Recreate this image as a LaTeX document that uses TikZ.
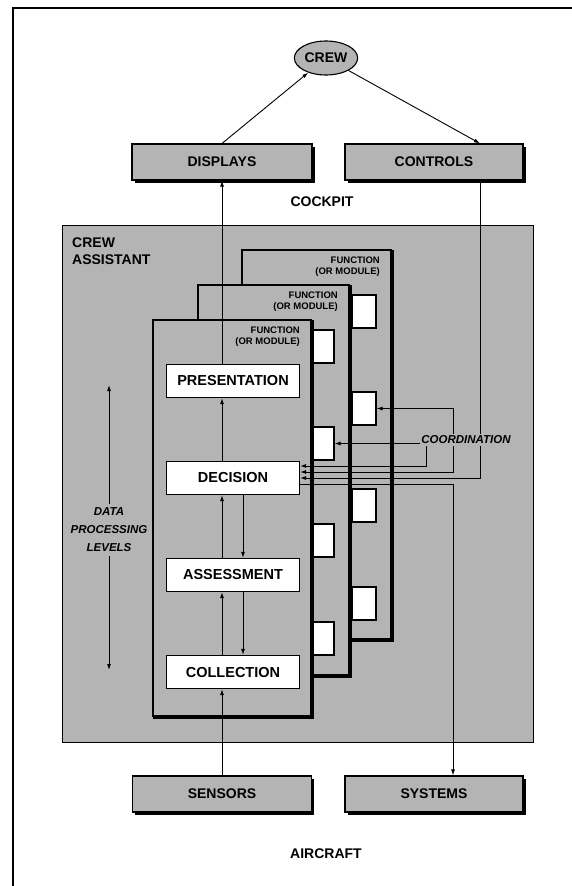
\documentclass[tikz,border=0pt]{standalone}
\usepackage{fontspec}
\setmainfont{Liberation Sans}
\usetikzlibrary{arrows.meta,shapes.geometric,shadows}
\definecolor{halftone}{HTML}{B4B4B4}
\pgfdeclarelayer{front}
\pgfsetlayers{main,front}
\tikzset{
  shbox/.style={draw,line width=1.1pt,fill=halftone,minimum height=36pt,
    font=\bfseries\fontsize{14}{16}\selectfont,
    drop shadow={shadow xshift=2.5pt,shadow yshift=-2.5pt,fill=black,opacity=1}},
  oval/.style={draw,ellipse,line width=1.1pt,fill=halftone,inner sep=1pt,
    font=\bfseries\fontsize{14}{16}\selectfont},
  lvl/.style={draw,line width=1.3pt,fill=white,minimum width=133pt,minimum height=33pt,
    font=\bfseries\fontsize{14.5}{16}\selectfont},
  stub/.style={draw,line width=1.1pt,fill=white,minimum width=24pt,minimum height=33pt},
  fnlab/.style={font=\bfseries\fontsize{9.5}{11}\selectfont,align=right,inner sep=0pt},
  lab/.style={font=\bfseries\fontsize{14}{16.5}\selectfont},
  ilab/.style={font=\bfseries\itshape\fontsize{11.5}{18}\selectfont,align=center},
  arr/.style={-{Latex[length=6pt,width=4pt]},line width=0.9pt},
  arr2/.style={{Latex[length=6pt,width=4pt]}-{Latex[length=6pt,width=4pt]},line width=0.9pt}
}
\begin{document}
\begin{tikzpicture}[x=1pt,y=-1pt]
\useasboundingbox (0,0) rectangle (571,886);
\draw[line width=1.5pt] (13,8) rectangle (580,895);
% cockpit
\node[oval,minimum width=60pt,minimum height=34pt] (crew) at (326,58) {CREW};
\node[shbox,minimum width=180pt] (disp) at (222,162) {DISPLAYS};
\node[shbox,minimum width=178pt] (ctrl) at (434,162) {CONTROLS};
\node[lab] (cockpit) at (322,202) {COCKPIT};
% crew assistant
\draw[line width=0.9pt,fill=halftone] (62,225) rectangle (533,742);
\node[lab,align=left,anchor=north west,inner sep=0pt] (ca) at (72,238) {CREW\\ASSISTANT};
\foreach \l/\t/\r/\b in {242/250/392/640,198/285/350/676,153/320/312/717}{
  \fill[halftone] (\l,\t) rectangle (\r,\b);
  \draw[line width=1.2pt] (\l,\b) -- (\l,\t) -- (\r,\t);
  \draw[line width=4pt] (\r,\t) -- (\r,\b) -- (\l,\b);
  \node[fnlab,anchor=north east] at (\r-12,\t+7) {FUNCTION\\(OR MODULE)};
  \ifnum\r>320
    \foreach \dy in {45,142,239,337}
      \node[stub] (s\r-\dy) at (\r-28,\t+\dy+16.5) {};
  \fi
}
\node[lvl] (pres) at (233,381) {PRESENTATION};
\node[lvl] (dec) at (233,478) {DECISION};
\node[lvl] (ass) at (233,575) {ASSESSMENT};
\node[lvl] (coll) at (233,672) {COLLECTION};
\node[ilab] (dpl) at (109,530) {DATA\\PROCESSING\\LEVELS};
\coordinate (dtop) at (109,385);
\coordinate (dbot) at (109,670);
\draw[arr] (dpl.north) -- (dtop);
\draw[arr] (dpl.south) -- (dbot);
% aircraft
\node[shbox,minimum width=179pt] (sens) at (222,794) {SENSORS};
\node[shbox,minimum width=178pt] (sys) at (434,794) {SYSTEMS};
\node[lab] (aircraft) at (326,854) {AIRCRAFT};
% coordination
\begin{pgfonlayer}{front}
\node[ilab,fill=halftone,inner sep=1.5pt] (coord) at (466,440) {COORDINATION};
\end{pgfonlayer}
\coordinate (c1) at (426,0);
\coordinate (c2) at (453,0);
\coordinate (c3) at (480,0);
\coordinate (d1) at ([yshift=12pt]dec.east);
\coordinate (d2) at ([yshift=6pt]dec.east);
\coordinate (d3) at (dec.east);
\coordinate (d4) at ([yshift=-6pt]dec.east);
% connectors
\draw[arr] (disp.north) -- (crew);
\draw[arr] (crew) -- (ctrl.north -| c3);
\draw[arr] ([xshift=-11pt]pres.north) -- (disp.south);
\draw[arr] (sens.north) -- (sens.north |- coll.south);
\foreach \a/\b in {coll/ass,ass/dec,dec/pres}
  \draw[arr] ([xshift=-11pt]\a.north) -- ([xshift=-11pt]\b.south);
\foreach \a/\b in {dec/ass,ass/coll}
  \draw[arr] ([xshift=10pt]\a.south) -- ([xshift=10pt]\b.north);
\draw[arr] (c1 |- coord.south) |- (d1);
\draw[arr2] (d2) -| (c2 |- s392-142) -- (s392-142.east);
\draw[arr] (ctrl.south -| c3) |- (d3);
\draw[arr] (d4) -| (sys.north -| c2);
\draw[arr] (coord.west |- s350-142) -- (s350-142.east);
\end{tikzpicture}
\end{document}
